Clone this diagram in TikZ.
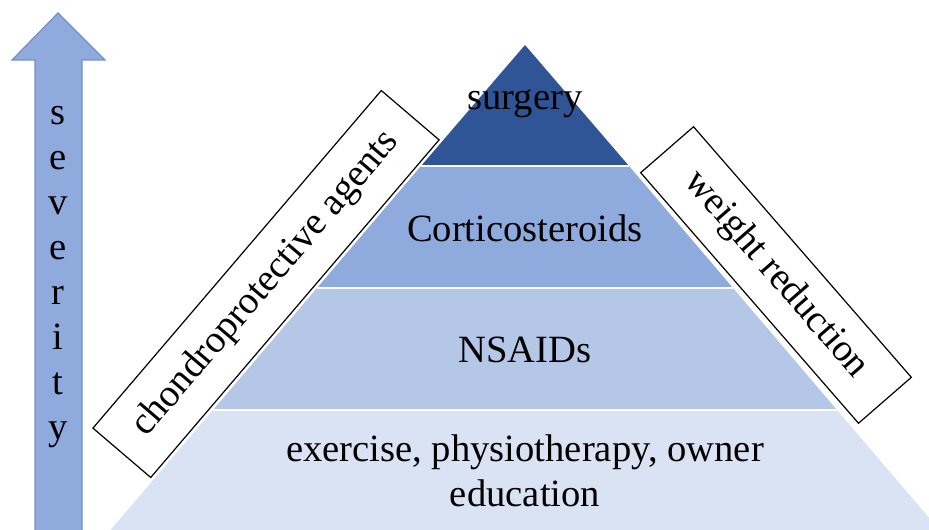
\documentclass[tikz,border=0pt]{standalone}
\usepackage{fontspec}
\setmainfont{Liberation Serif}
\usepackage{tikz}

\definecolor{surgblue}{HTML}{2F5597}
\definecolor{cortblue}{HTML}{8FAADC}
\definecolor{nsaidblue}{HTML}{B4C7E7}
\definecolor{baseblue}{HTML}{DAE3F3}
\definecolor{arrowline}{HTML}{6F91C9}

\begin{document}
\begin{tikzpicture}[x=0.5pt, y=-0.5pt,
    every node/.style={font=\fontsize{19.3}{22.5}\selectfont, inner sep=0pt},
    band/.style={fill=#1},
    sep/.style={draw=white, line width=1pt},
    sidebox/.style={draw=black, fill=white, line width=0.6pt}]
  \useasboundingbox (0,0) rectangle (929,529);
  \clip (0,0) rectangle (929,529);

  % severity arrow
  \filldraw[fill=cortblue, draw=arrowline, line width=0.6pt]
    (35,540) -- (35,60) -- (12,60) -- (58,13) -- (105,60) -- (82,60) -- (82,540) -- cycle;
  \node[align=center] (severity) at (58,277) {s\\e\\v\\e\\r\\i\\t\\y};

  % pyramid
  \fill[band=baseblue] (213,410) -- (837,410) -- (948,540) -- (102,540) -- cycle;
  \fill[band=nsaidblue] (317,288) -- (733,288) -- (837,410) -- (213,410) -- cycle;
  \fill[band=cortblue] (421,166) -- (629,166) -- (733,288) -- (317,288) -- cycle;
  \fill[band=surgblue] (525,45) -- (629,166) -- (421,166) -- cycle;
  \draw[sep] (421,166) -- (629,166);
  \draw[sep] (317,288) -- (733,288);
  \draw[sep] (213,410) -- (837,410);

  \node (surgery) at (525,104) {surgery};
  \node (cortico) at (525,228) {Corticosteroids};
  \node (nsaids) at (525,350) {NSAIDs};
  \node[align=center] (basic) at (525,471) {exercise, physiotherapy, owner\\education};

  % side boxes
  \node[sidebox, minimum width=222pt, minimum height=38pt, rotate=49.5]
    (chondro) at (266,284) {chondroprotective agents};
  \node[sidebox, minimum width=166pt, minimum height=35pt, rotate=-49]
    (weight) at (776,275) {weight reduction};
\end{tikzpicture}
\end{document}
